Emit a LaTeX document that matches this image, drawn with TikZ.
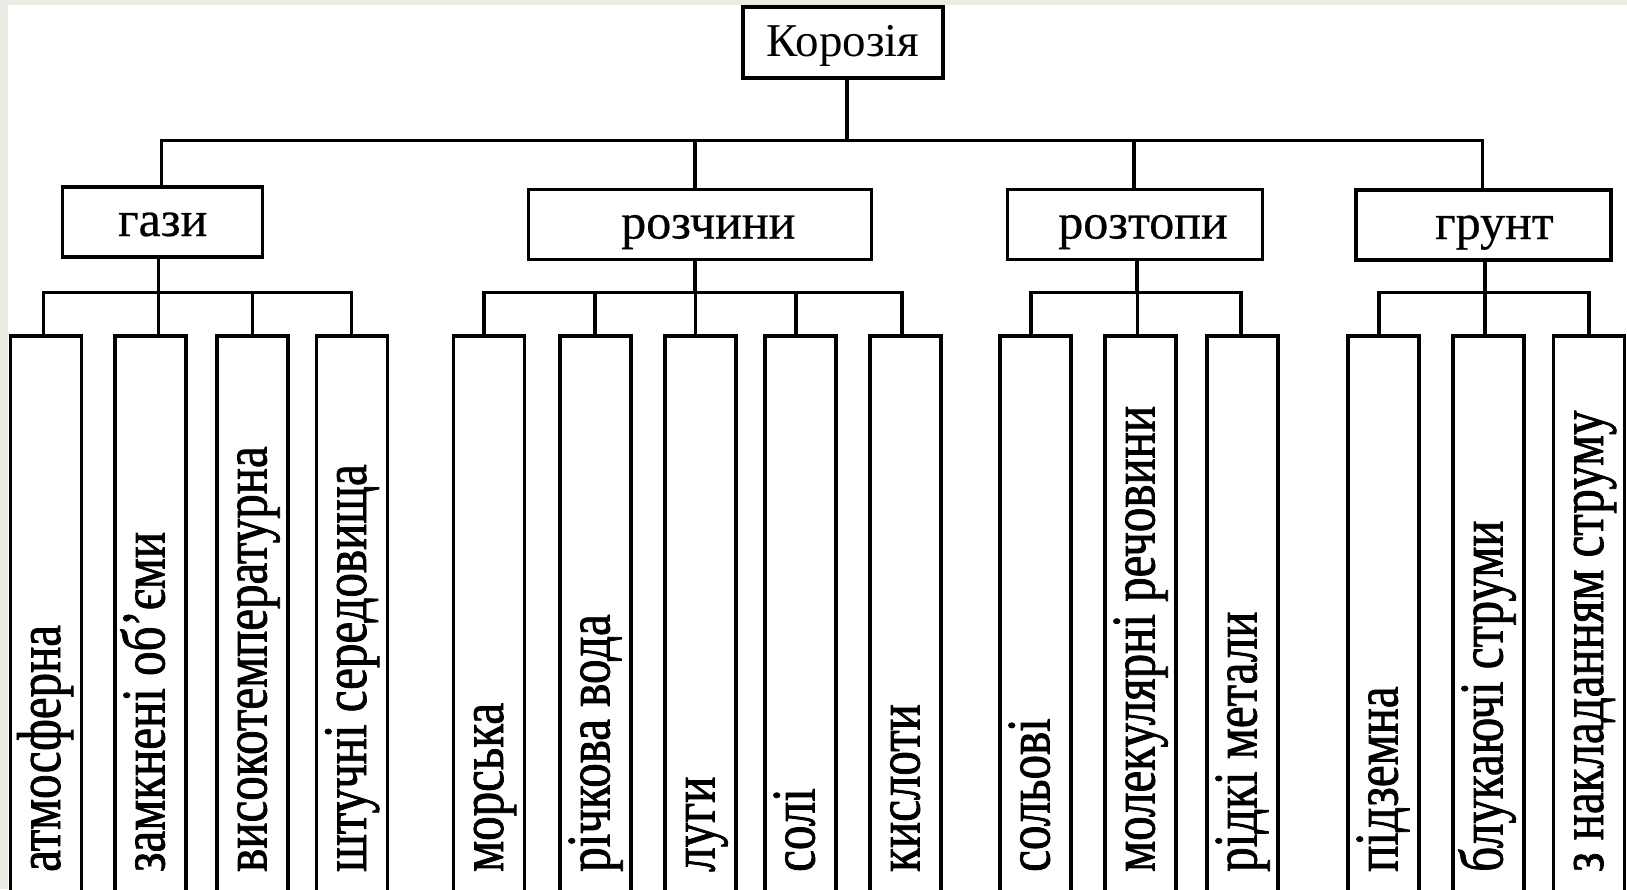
\documentclass[tikz,border=0pt]{standalone}
\usepackage{fontspec}
\setmainfont{Liberation Serif}
\newfontfamily\leaffont[FakeStretch=0.79,FakeBold=1.2]{Liberation Serif}
\newfontfamily\midfont[FakeBold=0.5]{Liberation Serif}
\begin{document}
\begin{tikzpicture}[x=1pt,y=-1pt,
  ln/.style={line width=3.2pt,line cap=rect},
  boxst/.style={draw,line width=3.2pt,fill=white,rectangle,inner sep=0pt},
  rootbox/.style={boxst,minimum width=200pt,minimum height=71pt,text height=28pt,text depth=0pt,font=\fontsize{47}{50}\selectfont},
  midbox/.style={boxst,minimum height=70pt,text height=28pt,text depth=0pt,font=\midfont\fontsize{50}{54}\selectfont},
  leafbox/.style={boxst,minimum width=71pt,minimum height=564pt},
  leaftext/.style={rotate=90,anchor=base west,inner sep=0pt,font=\leaffont\fontsize{62}{66}\selectfont}]
\useasboundingbox (0,0) rectangle (1627,889);
\fill[color={rgb,255:red,236;green,236;blue,228}] (0,0) rectangle (1627,889);
\fill[white] (8,5) rectangle (1627,889);
\clip (0,0) rectangle (1627,889);

% root
\node[rootbox] (root) at (843,42.5) {Корозія};

% level 2
\node[midbox,minimum width=200pt] (gazy) at (162.7,222) {гази};
\node[midbox,minimum width=343pt] (rozch) at (700.3,224.5) {\hspace*{16pt}розчини};
\node[midbox,minimum width=255pt] (rozt) at (1135,224.5) {\hspace*{16pt}розтопи};
\node[midbox,minimum width=255pt] (grunt) at (1483.4,225) {\hspace*{22pt}грунт};

% top bus
\coordinate (r0) at (847,140.5);
\coordinate (b1) at (161.7,140.5);
\coordinate (b2) at (695,140.5);
\coordinate (b3) at (1134,140.5);
\coordinate (b4) at (1482.7,140.5);
\draw[ln] (root.south -| r0) -- (r0);
\draw[ln] (b1) -- (b4);
\draw[ln] (b1) -- (gazy.north -| b1);
\draw[ln] (b2) -- (rozch.north -| b2);
\draw[ln] (b3) -- (rozt.north -| b3);
\draw[ln] (b4) -- (grunt.north -| b4);

% leaves
\node[leafbox] (l1) at (46,618) {};
\node[leafbox] (l2) at (150.5,618) {};
\node[leafbox] (l3) at (252.5,618) {};
\node[leafbox] (l4) at (352,618) {};
\node[leafbox] (l5) at (489,618) {};
\node[leafbox] (l6) at (595.5,618) {};
\node[leafbox] (l7) at (700.5,618) {};
\node[leafbox] (l8) at (800.5,618) {};
\node[leafbox] (l9) at (905.5,618) {};
\node[leafbox] (l10) at (1035.5,618) {};
\node[leafbox] (l11) at (1140.5,618) {};
\node[leafbox] (l12) at (1242.5,618) {};
\node[leafbox] (l13) at (1383.5,618) {};
\node[leafbox] (l14) at (1488.5,618) {};
\node[leafbox] (l15) at (1589,618) {};

% sub-bus coordinates
\coordinate (g0) at (158.7,292.3);
\coordinate (c1) at (43.4,292.3);
\coordinate (c2) at (158.7,292.3);
\coordinate (c3) at (252.6,292.3);
\coordinate (c4) at (351.5,292.3);
\coordinate (s0) at (695,292.3);
\coordinate (c5) at (484,292.3);
\coordinate (c6) at (595,292.3);
\coordinate (c7) at (695.6,292.3);
\coordinate (c8) at (796,292.3);
\coordinate (c9) at (902,292.3);
\coordinate (t0) at (1137,292.3);
\coordinate (c10) at (1031,292.3);
\coordinate (c11) at (1137.5,292.3);
\coordinate (c12) at (1241,292.3);
\coordinate (u0) at (1485,292.3);
\coordinate (c13) at (1379,292.3);
\coordinate (c14) at (1485,292.3);
\coordinate (c15) at (1589,292.3);

\draw[ln] (gazy.south -| g0) -- (g0);
\draw[ln] (c1) -- (c4);
\draw[ln] (rozch.south -| s0) -- (s0);
\draw[ln] (c5) -- (c9);
\draw[ln] (rozt.south -| t0) -- (t0);
\draw[ln] (c10) -- (c12);
\draw[ln] (grunt.south -| u0) -- (u0);
\draw[ln] (c13) -- (c15);

\foreach \i in {1,...,15}{
  \draw[ln] (c\i) -- (l\i.north -| c\i);
}

% leaf texts
\node[leaftext] (t1) at (60,872) {атмосферна};
\node[leaftext] (t2) at (164.5,872) {замкнені об’єми};
\node[leaftext] (t3) at (266.5,872) {високотемпературна};
\node[leaftext] (t4) at (366,872) {штучні середовища};
\node[leaftext] (t5) at (503,872) {морська};
\node[leaftext] (t6) at (609.5,872) {річкова вода};
\node[leaftext] (t7) at (714.5,872) {луги};
\node[leaftext] (t8) at (814.5,872) {солі};
\node[leaftext] (t9) at (919.5,872) {кислоти};
\node[leaftext] (t10) at (1049.5,872) {сольові};
\node[leaftext] (t11) at (1154.5,872) {молекулярні речовини};
\node[leaftext] (t12) at (1256.5,872) {рідкі метали};
\node[leaftext] (t13) at (1397.5,872) {підземна};
\node[leaftext] (t14) at (1502.5,872) {блукаючі струми};
\node[leaftext] (t15) at (1603,872) {з накладанням струму};
\end{tikzpicture}
\end{document}
